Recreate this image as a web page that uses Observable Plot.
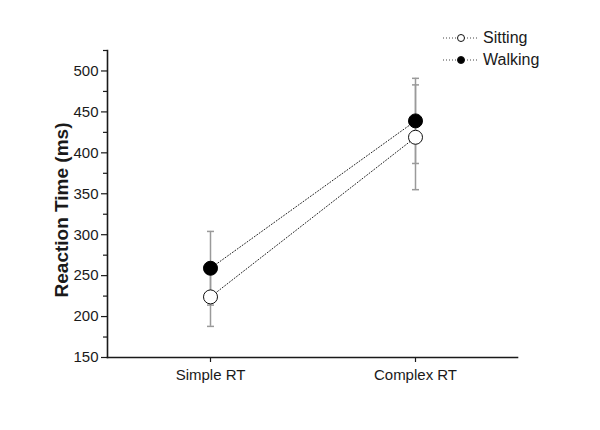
<!DOCTYPE html>
<html>
<head>
<meta charset="utf-8">
<script src="https://cdn.jsdelivr.net/npm/d3@7"></script>
<script src="https://cdn.jsdelivr.net/npm/@observablehq/plot@0.6"></script>
<style>
  body { margin: 0; background: #fff; font-family: "Liberation Sans", Arial, sans-serif; }
  #wrap { position: relative; width: 600px; height: 430px; }
  #legend { position: absolute; left: 443px; top: 27px; font-size: 16px; color: #1a1a1a; }
  .row { display: flex; align-items: center; height: 22px; }
  .row svg { margin-right: 4px; }
</style>
</head>
<body>
<div id="wrap"><div id="legend"></div></div>
<script>
const categories = ["Simple RT", "Complex RT"];
const series = ["Sitting", "Walking"];
const sittingMean = [224, 419];
const sittingErr = [36, 64];
const walkingMean = [259, 439];
const walkingErr = [45, 52];
const yTicks = [150, 200, 250, 300, 350, 400, 450, 500];
const yMinorTicks = [175, 225, 275, 325, 375, 425, 475, 525];

const data = [];
categories.forEach((c, i) => {
  data.push({cat: c, series: "Sitting", mean: sittingMean[i], lo: sittingMean[i] - sittingErr[i], hi: sittingMean[i] + sittingErr[i]});
  data.push({cat: c, series: "Walking", mean: walkingMean[i], lo: walkingMean[i] - walkingErr[i], hi: walkingMean[i] + walkingErr[i]});
});
const caps = data.flatMap(d => [{cat: d.cat, v: d.lo}, {cat: d.cat, v: d.hi}]);

const capSymbol = {
  draw(context, size) {
    const r = Math.sqrt(size / Math.PI);
    context.moveTo(-r, 0);
    context.lineTo(r, 0);
  }
};

const chart = Plot.plot({
  width: 600,
  height: 430,
  marginLeft: 107,
  marginRight: 83,
  marginTop: 50,
  marginBottom: 73,
  style: {fontFamily: '"Liberation Sans", Arial, sans-serif', fontSize: "15px", color: "#1a1a1a", background: "white"},
  x: {type: "point", domain: categories, padding: 0.5},
  y: {domain: [150, 525]},
  marks: [
    Plot.axisY({ticks: yTicks, tickSize: 6, tickPadding: 3, label: null, fontSize: 15, strokeWidth: 1.2}),
    Plot.axisY({ticks: yMinorTicks, tickSize: 4, text: null, label: null, strokeWidth: 1.2}),
    Plot.axisX({tickSize: 5, tickPadding: 7, label: null, fontSize: 15, strokeWidth: 1.2}),
    Plot.frame({anchor: "left", strokeWidth: 1.6, stroke: "#1a1a1a"}),
    Plot.frame({anchor: "bottom", strokeWidth: 1.6, stroke: "#1a1a1a"}),
    Plot.text(["Reaction Time (ms)"], {frameAnchor: "left", textAnchor: "middle", rotate: -90, dx: -46, dy: 6, fontWeight: "bold", fontSize: 19, fill: "#1a1a1a"}),
    Plot.ruleX(data, {x: "cat", y1: "lo", y2: "hi", stroke: "#9a9a9a", strokeWidth: 1.5}),
    Plot.dot(caps, {x: "cat", y: "v", symbol: capSymbol, r: 3.5, stroke: "#9a9a9a", strokeWidth: 1.5}),
    Plot.line(data, {x: "cat", y: "mean", z: "series", stroke: "#222", strokeWidth: 1, strokeDasharray: "1,2"}),
    Plot.dot(data.filter(d => d.series === "Sitting"), {x: "cat", y: "mean", r: 7, fill: "white", stroke: "#111", strokeWidth: 1}),
    Plot.dot(data.filter(d => d.series === "Walking"), {x: "cat", y: "mean", r: 7, fill: "#000", stroke: "#000", strokeWidth: 1})
  ]
});
document.getElementById("wrap").prepend(chart);

const legend = document.getElementById("legend");
series.forEach(s => {
  const row = document.createElement("div");
  row.className = "row";
  const filled = s === "Walking";
  row.innerHTML = `<svg width="36" height="14"><line x1="0" x2="36" y1="7" y2="7" stroke="#444" stroke-width="1" stroke-dasharray="1,2"/><circle cx="18" cy="7" r="3.5" fill="${filled ? "#000" : "#fff"}" stroke="#111" stroke-width="1"/></svg><span>${s}</span>`;
  legend.appendChild(row);
});
</script>
</body>
</html>
